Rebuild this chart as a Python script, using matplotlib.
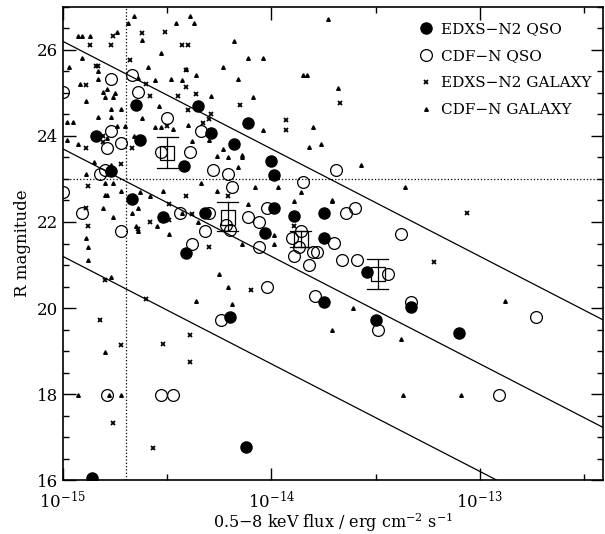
import numpy as np
import matplotlib
matplotlib.use("Agg")
import matplotlib.pyplot as plt
from matplotlib.patches import Rectangle
from matplotlib.ticker import FixedLocator, MultipleLocator, NullFormatter, LogFormatterSciNotation

plt.rcParams['font.family'] = ['DejaVu Serif']
plt.rcParams['mathtext.fontset'] = 'dejavuserif'

# log10 of 0.5-8 keV flux and R magnitude
edxs_qso_logf = [-14.84, -14.77, -14.65, -14.63, -14.67, -14.52, -14.42, -14.35, -14.29, -14.18,
                 -14.11, -14.32, -14.00, -13.99, -13.99, -13.89, -13.75, -14.03, -13.75, -13.75,
                 -13.54, -13.33, -13.50, -13.10, -14.41, -14.20, -14.86, -14.12]
edxs_qso_r = [23.99, 23.18, 24.72, 23.90, 22.53, 22.11, 23.30, 24.70, 24.07, 23.81,
              24.30, 22.22, 23.41, 23.09, 22.32, 22.13, 22.22, 21.74, 21.62, 20.13,
              20.83, 20.03, 19.73, 19.43, 21.29, 19.78, 16.05, 16.77]

cdfn_qso_logf = [-15.00, -14.77, -14.67, -14.64, -14.50, -14.77, -14.79, -14.72, -14.53, -14.39,
                 -14.34, -14.28, -14.21, -14.19, -13.85, -14.82, -14.80, -15.00, -14.91, -14.72,
                 -14.44, -14.30, -14.32, -14.38, -14.22, -14.20, -14.11, -14.06, -14.02, -14.06,
                 -13.90, -13.86, -13.69, -13.64, -13.60, -13.38, -13.87, -13.70, -13.89, -13.80,
                 -13.78, -13.82, -13.66, -13.59, -13.44, -14.02, -13.79, -13.33, -13.49, -12.73,
                 -12.91, -14.24, -14.79, -14.53, -14.47]
cdfn_qso_r = [25.02, 25.32, 25.42, 25.02, 24.41, 24.11, 23.72, 23.83, 23.62, 23.62,
              24.11, 23.20, 23.11, 22.81, 22.92, 23.11, 23.20, 22.69, 22.21, 21.80,
              22.21, 22.21, 21.80, 21.50, 21.93, 21.82, 22.11, 22.01, 22.32, 21.41,
              21.62, 21.80, 23.20, 22.22, 22.32, 21.71, 21.41, 21.52, 21.20, 21.31,
              21.31, 20.99, 21.11, 21.11, 20.80, 20.50, 20.29, 20.13, 19.50, 19.80,
              17.98, 19.71, 17.98, 17.98, 17.98]

edxs_gal_logf = [-14.76, -14.62, -14.51, -14.87, -14.77, -14.43, -14.40, -14.68, -14.84, -14.83,
                 -14.41, -14.89, -14.60, -14.41, -14.58, -14.45, -14.36, -14.40, -14.29, -14.30,
                 -14.50, -14.33, -14.81, -14.81, -14.89, -14.67, -14.72, -14.15, -13.93, -13.93,
                 -13.67, -14.88, -14.41, -14.21, -14.49, -14.89, -14.38, -14.49, -14.58, -14.88,
                 -14.64, -14.30, -14.80, -14.60, -14.82, -14.72, -14.52, -14.39, -14.39, -14.10,
                 -14.76, -14.57, -13.89, -13.22, -13.06]
edxs_gal_r = [26.33, 26.40, 26.42, 26.12, 26.12, 26.12, 26.12, 25.77, 25.63, 25.63,
              25.53, 25.18, 25.20, 25.14, 24.93, 24.93, 24.97, 24.60, 24.51, 24.39,
              24.23, 24.30, 23.99, 23.86, 23.72, 23.72, 23.34, 24.72, 24.37, 24.14,
              24.77, 22.83, 22.60, 22.60, 22.43, 22.32, 22.18, 22.04, 21.99, 21.90,
              21.83, 21.43, 20.66, 20.22, 19.73, 19.15, 19.17, 19.38, 18.75, 20.41,
              17.33, 16.75, 21.90, 21.06, 22.21]

cdfn_gal_logf = [-14.66, -14.69, -14.46, -14.39, -14.37, -14.74, -14.93, -14.91, -14.87, -14.62,
                 -14.18, -13.73, -14.11, -14.04, -13.85, -13.83, -13.68, -14.09, -13.80, -13.82,
                 -13.76, -14.14, -13.57, -13.36, -13.71, -13.86, -14.91, -14.97, -14.83, -14.83,
                 -14.92, -14.79, -14.81, -14.80, -14.76, -14.75, -14.89, -14.77, -14.72, -14.83,
                 -14.77, -14.74, -14.70, -14.98, -14.95, -14.98, -14.93, -14.79, -14.66, -14.53,
                 -14.59, -14.56, -14.64, -14.48, -14.41, -14.43, -14.36, -14.23, -14.16, -14.29,
                 -14.54, -14.62, -14.56, -14.53, -14.47, -14.40, -14.38, -14.30, -14.23, -14.26,
                 -14.21, -14.14, -14.16, -14.04, -13.97, -14.89, -14.85, -14.77, -14.80, -14.76,
                 -14.80, -14.79, -14.72, -14.52, -14.63, -14.58, -14.34, -14.26, -14.81, -14.76,
                 -14.67, -14.64, -14.43, -14.35, -14.65, -14.55, -14.49, -14.89, -14.88, -14.88,
                 -14.77, -14.25, -14.21, -14.19, -14.36, -14.64, -14.08, -14.11, -13.89, -13.71,
                 -13.99, -13.99, -14.14, -13.61, -12.88, -13.71, -13.38, -13.37, -13.09, -14.80,
                 -14.93, -14.72, -14.78]
cdfn_gal_r = [26.79, 26.63, 26.63, 26.79, 26.63, 26.42, 26.33, 26.33, 26.33, 26.23,
              26.21, 26.72, 25.81, 25.81, 25.42, 25.42, 25.11, 24.90, 24.21, 23.74,
              23.81, 23.50, 23.32, 22.81, 22.50, 22.69, 25.81, 25.60, 25.51, 25.32,
              25.21, 25.09, 25.02, 24.90, 24.90, 25.00, 24.81, 24.63, 24.63, 24.44,
              24.44, 24.23, 24.23, 24.32, 24.32, 23.90, 23.81, 23.95, 23.99, 25.93,
              25.60, 25.30, 25.35, 25.32, 25.56, 25.30, 25.42, 25.60, 25.32, 24.93,
              24.70, 24.42, 24.21, 24.21, 24.16, 24.25, 23.88, 23.90, 23.69, 23.53,
              23.50, 23.55, 23.27, 24.14, 22.81, 23.11, 23.39, 23.32, 22.90, 22.90,
              22.62, 22.62, 22.71, 22.71, 22.69, 22.60, 22.90, 22.71, 22.32, 22.11,
              22.20, 22.32, 22.22, 22.01, 21.90, 21.90, 21.71, 21.62, 21.41, 21.11,
              20.71, 20.80, 20.50, 20.10, 20.17, 21.80, 22.81, 22.41, 22.48, 22.48,
              21.69, 21.50, 21.50, 19.99, 20.17, 19.50, 19.29, 17.98, 17.98, 18.98,
              17.98, 17.98, 17.98]

# binned boxes: log flux, whisker low/high, box low/high
box_logf = [-14.50, -14.21, -13.86, -13.49]
box_whislo = [23.25, 21.78, 21.41, 20.45]
box_whishi = [23.97, 22.46, 21.80, 21.15]
box_q1 = [23.44, 21.94, 21.43, 20.62]
box_q3 = [23.76, 22.27, 21.78, 20.96]

# constant X/O lines: R magnitude at 1e-15
xo_r_at_1e15 = [26.2, 23.7, 21.2]
flux_cut = 2e-15
r_cut = 23.0
x_major = [1e-15, 1e-14, 1e-13]

fig = plt.figure(figsize=(6.05, 5.34), dpi=100)
ax = fig.add_axes([0.104, 0.101, 0.893, 0.886])
ax.set_xscale('log')
xmin, xmax = 1e-15, 3.9e-13
ax.set_xlim(xmin, xmax)
ax.set_ylim(16, 27)

xl = np.array([xmin, xmax])
for r0 in xo_r_at_1e15:
    ax.plot(xl, r0 - 2.5 * (np.log10(xl) + 15), color='k', lw=0.9)

ax.axvline(flux_cut, color='k', ls=':', lw=0.9)
ax.axhline(r_cut, color='k', ls=':', lw=0.9)

ax.plot(10**np.array(cdfn_gal_logf), cdfn_gal_r, ls='none', marker='^', ms=2.6,
        color='k', label='CDF\u2212N GALAXY')
ax.plot(10**np.array(edxs_gal_logf), edxs_gal_r, ls='none', marker='x', ms=3.0, mew=1.3,
        color='k', label='EDXS\u2212N2 GALAXY')
ax.plot(10**np.array(cdfn_qso_logf), cdfn_qso_r, ls='none', marker='o', ms=8.5, mfc='none',
        mec='k', mew=0.9, label='CDF\u2212N QSO')
ax.plot(10**np.array(edxs_qso_logf), edxs_qso_r, ls='none', marker='o', ms=8, color='k',
        label='EDXS\u2212N2 QSO')

for lf, wlo, whi, q1, q3 in zip(box_logf, box_whislo, box_whishi, box_q1, box_q3):
    xc = 10**lf
    ax.plot([xc, xc], [wlo, whi], color='k', lw=0.9)
    ax.plot([10**(lf - 0.05), 10**(lf + 0.05)], [wlo, wlo], color='k', lw=0.9)
    ax.plot([10**(lf - 0.05), 10**(lf + 0.05)], [whi, whi], color='k', lw=0.9)
    ax.add_patch(Rectangle((10**(lf - 0.033), q1), 10**(lf + 0.033) - 10**(lf - 0.033), q3 - q1,
                           fill=False, ec='k', lw=0.9))

ax.xaxis.set_major_locator(FixedLocator(x_major))
ax.xaxis.set_major_formatter(LogFormatterSciNotation())
ax.xaxis.set_minor_locator(FixedLocator([10**(k + 0.5) for k in range(-15, -12)]))
ax.xaxis.set_minor_formatter(NullFormatter())
ax.yaxis.set_major_locator(MultipleLocator(2))
ax.yaxis.set_minor_locator(MultipleLocator(0.5))
ax.tick_params(which='both', direction='in', top=True, right=True, labelsize=12)
ax.tick_params(which='major', length=9, width=1)
ax.tick_params(which='minor', length=4.5, width=1)
ax.tick_params(axis='x', which='major', pad=7.5)
for s in ax.spines.values():
    s.set_linewidth(1.2)

ax.set_xlabel('0.5\u22128 keV flux / erg cm$^{-2}$ s$^{-1}$', fontsize=11.5)
ax.xaxis.set_label_coords(0.5, -0.064)
ax.set_ylabel('R magnitude', fontsize=12)

h, l = ax.get_legend_handles_labels()
ax.legend(h[::-1], l[::-1], loc='upper left', bbox_to_anchor=(0.658, 0.968), frameon=False,
          fontsize=11, handlelength=1, handletextpad=0.5, labelspacing=0.85, borderpad=0,
          borderaxespad=0)

fig.savefig('out.png', dpi=100)
